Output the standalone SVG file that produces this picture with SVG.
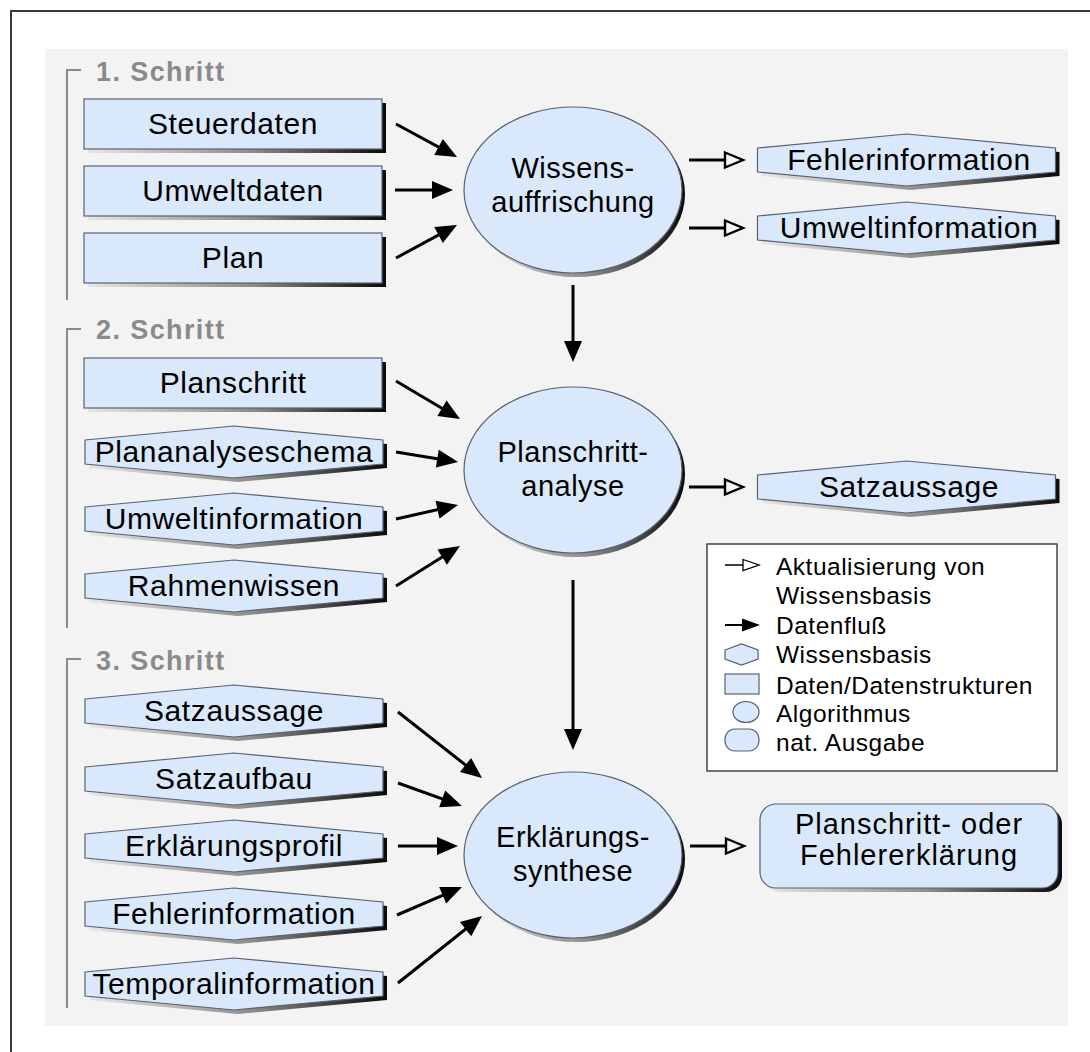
<svg xmlns="http://www.w3.org/2000/svg" xmlns:xlink="http://www.w3.org/1999/xlink" width="1090" height="1052" viewBox="0 0 1090 1052">
  <style>
    text { font-family: "Liberation Sans", Arial, sans-serif; fill: #000; }
    .lbl { font-size: 30px; letter-spacing: 0.6px; text-anchor: middle; }
    .alg { font-size: 29px; letter-spacing: 0.5px; text-anchor: middle; }
    .out { font-size: 29px; letter-spacing: 1px; text-anchor: middle; }
    .step { font-size: 27px; font-weight: bold; fill: #8a8a8a; letter-spacing: 1.4px; }
    .leg { font-size: 24.5px; letter-spacing: 0.5px; }
    .shape { fill: #d9e8fb; stroke: #5a6270; stroke-width: 1.2; }
    .shadow { fill: url(#shade); }
    .bracket { fill: none; stroke: #8a8a8a; stroke-width: 2; }
    .flow { stroke: #000; stroke-width: 3; fill: none; marker-end: url(#flowHead); }
    .upd { stroke: #000; stroke-width: 3; fill: none; marker-end: url(#updHead); }
  </style>
  <defs>
    <linearGradient id="shade" x1="0" y1="0" x2="1" y2="0">
      <stop offset="0" stop-color="#e6e6e6"/>
      <stop offset="0.55" stop-color="#8c8c8c"/>
      <stop offset="1" stop-color="#0a0a0a"/>
    </linearGradient>
    <marker id="flowHead" markerUnits="userSpaceOnUse" markerWidth="24" markerHeight="20" refX="17" refY="9" orient="auto" overflow="visible">
      <path d="M0,0 L21,9 L0,18 Z" fill="#000"/>
    </marker>
    <marker id="updHead" markerUnits="userSpaceOnUse" markerWidth="24" markerHeight="20" refX="1" refY="8" orient="auto" overflow="visible">
      <path d="M1,0.5 L19,8 L1,15.5 Z" fill="#f6f6f6" stroke="#000" stroke-width="2.4" stroke-linejoin="miter"/>
    </marker>
    <!-- reusable node outlines, centred on the origin -->
    <rect id="box" x="-149" y="-25" width="298" height="50"/>
    <path id="hex" d="M-149,-12 L0,-26 L149,-12 L149,12 L0,26 L-149,12 Z"/>
    <ellipse id="ell" cx="0" cy="0" rx="109" ry="83"/>
  </defs>

  <!-- frame and panel -->
  <rect x="11" y="11" width="1100" height="1060" fill="#fff" stroke="#3a3a3a" stroke-width="2"/>
  <rect x="45" y="49" width="1023" height="977" fill="#f3f3f3"/>

  <!-- step brackets -->
  <g id="steps">
    <path class="bracket" d="M81,70 H67 V300"/>
    <text class="step" x="96" y="81">1. Schritt</text>
    <path class="bracket" d="M81,329 H67 V628"/>
    <text class="step" x="96" y="339">2. Schritt</text>
    <path class="bracket" d="M81,659 H67 V1008"/>
    <text class="step" x="96" y="670">3. Schritt</text>
  </g>

  <!-- connectors -->
  <g id="connectors">
    <line class="flow" x1="396" y1="124" x2="453.5" y2="155.1"/>
    <line class="flow" x1="395" y1="190" x2="449" y2="190"/>
    <line class="flow" x1="396" y1="258" x2="453.5" y2="226.9"/>
    <line class="upd" x1="689" y1="160" x2="725" y2="160"/>
    <line class="upd" x1="689" y1="228" x2="725" y2="228"/>
    <line class="flow" x1="573" y1="285" x2="573" y2="358"/>
    <line class="flow" x1="396" y1="381" x2="456.6" y2="417"/>
    <line class="flow" x1="396" y1="452" x2="454.1" y2="461.4"/>
    <line class="flow" x1="396" y1="519" x2="454.1" y2="505.9"/>
    <line class="flow" x1="396" y1="586" x2="456.6" y2="548.1"/>
    <line class="upd" x1="689" y1="487" x2="725" y2="487"/>
    <line class="flow" x1="573" y1="580" x2="573" y2="746"/>
    <line class="flow" x1="398" y1="712" x2="478.9" y2="775.5"/>
    <line class="flow" x1="398" y1="783" x2="458.2" y2="804.6"/>
    <line class="flow" x1="398" y1="846" x2="454" y2="846"/>
    <line class="flow" x1="397" y1="915" x2="458.3" y2="888.6"/>
    <line class="flow" x1="398" y1="983" x2="478.9" y2="918.5"/>
    <line class="upd" x1="690" y1="846" x2="726" y2="846"/>
  </g>

  <!-- step 1 inputs -->
  <g id="steuerdaten">
    <use xlink:href="#box" class="shadow" x="237" y="128"/>
    <use xlink:href="#box" class="shape" x="233" y="124"/>
    <text class="lbl" x="233" y="134">Steuerdaten</text>
  </g>
  <g id="umweltdaten">
    <use xlink:href="#box" class="shadow" x="237" y="195"/>
    <use xlink:href="#box" class="shape" x="233" y="191"/>
    <text class="lbl" x="233" y="201">Umweltdaten</text>
  </g>
  <g id="plan">
    <use xlink:href="#box" class="shadow" x="237" y="262"/>
    <use xlink:href="#box" class="shape" x="233" y="258"/>
    <text class="lbl" x="233" y="268">Plan</text>
  </g>

  <!-- step 2 inputs -->
  <g id="planschritt">
    <use xlink:href="#box" class="shadow" x="237" y="387"/>
    <use xlink:href="#box" class="shape" x="233" y="383"/>
    <text class="lbl" x="233" y="393">Planschritt</text>
  </g>
  <g id="plananalyseschema">
    <use xlink:href="#hex" class="shadow" x="238" y="456"/>
    <use xlink:href="#hex" class="shape" x="234" y="452"/>
    <text class="lbl" x="234" y="462" letter-spacing="0.1">Plananalyseschema</text>
  </g>
  <g id="umweltinformation-2">
    <use xlink:href="#hex" class="shadow" x="238" y="523"/>
    <use xlink:href="#hex" class="shape" x="234" y="519"/>
    <text class="lbl" x="234" y="529">Umweltinformation</text>
  </g>
  <g id="rahmenwissen">
    <use xlink:href="#hex" class="shadow" x="238" y="590"/>
    <use xlink:href="#hex" class="shape" x="234" y="586"/>
    <text class="lbl" x="234" y="596">Rahmenwissen</text>
  </g>

  <!-- step 3 inputs -->
  <g id="satzaussage-3">
    <use xlink:href="#hex" class="shadow" x="238" y="715"/>
    <use xlink:href="#hex" class="shape" x="234" y="711"/>
    <text class="lbl" x="234" y="721">Satzaussage</text>
  </g>
  <g id="satzaufbau">
    <use xlink:href="#hex" class="shadow" x="238" y="783"/>
    <use xlink:href="#hex" class="shape" x="234" y="779"/>
    <text class="lbl" x="234" y="789">Satzaufbau</text>
  </g>
  <g id="erklaerungsprofil">
    <use xlink:href="#hex" class="shadow" x="238" y="850"/>
    <use xlink:href="#hex" class="shape" x="234" y="846"/>
    <text class="lbl" x="234" y="856">Erklärungsprofil</text>
  </g>
  <g id="fehlerinformation-3">
    <use xlink:href="#hex" class="shadow" x="238" y="918"/>
    <use xlink:href="#hex" class="shape" x="234" y="914"/>
    <text class="lbl" x="234" y="924">Fehlerinformation</text>
  </g>
  <g id="temporalinformation">
    <use xlink:href="#hex" class="shadow" x="238" y="988"/>
    <use xlink:href="#hex" class="shape" x="234" y="984"/>
    <text class="lbl" x="234" y="994" letter-spacing="0">Temporalinformation</text>
  </g>

  <!-- algorithms -->
  <g id="wissensauffrischung">
    <use xlink:href="#ell" class="shadow" x="576" y="194"/>
    <use xlink:href="#ell" class="shape" x="573" y="190"/>
    <text class="alg" x="573" y="178">Wissens-</text>
    <text class="alg" x="573" y="212">auffrischung</text>
  </g>
  <g id="planschrittanalyse">
    <use xlink:href="#ell" class="shadow" x="576" y="474"/>
    <use xlink:href="#ell" class="shape" x="573" y="470"/>
    <text class="alg" x="573" y="462">Planschritt-</text>
    <text class="alg" x="573" y="496">analyse</text>
  </g>
  <g id="erklaerungssynthese">
    <use xlink:href="#ell" class="shadow" x="576" y="859"/>
    <use xlink:href="#ell" class="shape" x="573" y="855"/>
    <text class="alg" x="573" y="847">Erklärungs-</text>
    <text class="alg" x="573" y="881">synthese</text>
  </g>

  <!-- updated knowledge bases -->
  <g id="fehlerinformation-1">
    <use xlink:href="#hex" class="shadow" x="910.5" y="164"/>
    <use xlink:href="#hex" class="shape" x="906.5" y="160"/>
    <text class="lbl" x="909" y="170">Fehlerinformation</text>
  </g>
  <g id="umweltinformation-1">
    <use xlink:href="#hex" class="shadow" x="910.5" y="232"/>
    <use xlink:href="#hex" class="shape" x="906.5" y="228"/>
    <text class="lbl" x="909" y="238">Umweltinformation</text>
  </g>
  <g id="satzaussage-2">
    <use xlink:href="#hex" class="shadow" x="910.5" y="491"/>
    <use xlink:href="#hex" class="shape" x="906.5" y="487"/>
    <text class="lbl" x="909" y="497">Satzaussage</text>
  </g>

  <!-- natural language output -->
  <g id="ausgabe">
    <rect class="shadow" x="764" y="808" width="298" height="84" rx="16"/>
    <rect class="shape" x="760" y="804" width="298" height="84" rx="16"/>
    <text class="out" x="909" y="834">Planschritt- oder</text>
    <text class="out" x="909" y="865">Fehlererklärung</text>
  </g>

  <!-- legend -->
  <g id="legend">
    <rect x="707" y="544" width="350" height="227" fill="#fff" stroke="#444" stroke-width="1.5"/>
    <line x1="725" y1="565" x2="743" y2="565" stroke="#000" stroke-width="1.5"/>
    <path d="M743,559.5 L759,565 L743,570.5 Z" fill="#fff" stroke="#000" stroke-width="1.3"/>
    <line x1="725" y1="625" x2="744" y2="625" stroke="#000" stroke-width="2"/>
    <path d="M742,618.5 L760,625 L742,631.5 Z" fill="#000"/>
    <path class="shape" d="M725,650 L741.5,644 L758,650 L758,659 L741.5,665 L725,659 Z"/>
    <rect class="shape" x="725" y="674" width="34" height="20"/>
    <ellipse class="shape" cx="746" cy="712" rx="13" ry="10.5"/>
    <rect class="shape" x="725" y="729" width="34" height="22" rx="10"/>
    <text class="leg" x="776" y="575">Aktualisierung von</text>
    <text class="leg" x="776" y="604">Wissensbasis</text>
    <text class="leg" x="776" y="634">Datenfluß</text>
    <text class="leg" x="776" y="663">Wissensbasis</text>
    <text class="leg" x="776" y="694">Daten/Datenstrukturen</text>
    <text class="leg" x="776" y="722">Algorithmus</text>
    <text class="leg" x="776" y="751">nat. Ausgabe</text>
  </g>
</svg>
